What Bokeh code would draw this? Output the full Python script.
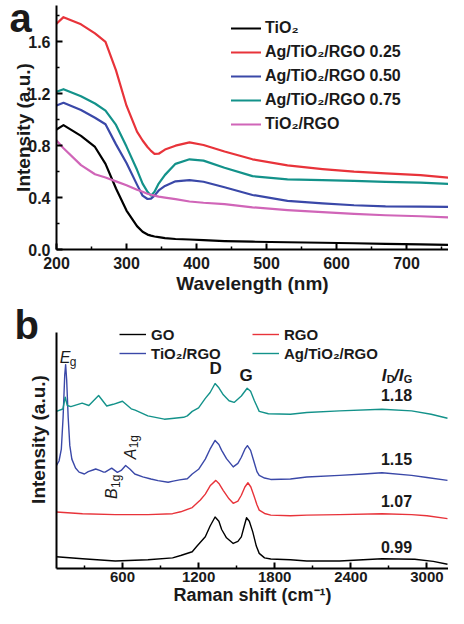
import math
from bokeh.plotting import figure
from bokeh.layouts import column
from bokeh.models import (Range1d, Legend, LegendItem, Label, FixedTicker,
                          PrintfTickFormatter)
from bokeh.embed import file_html
from bokeh.resources import INLINE

FONT = "Liberation Sans"

# ---------------- Panel a: UV-vis absorption ----------------
wavelength = [200, 210, 235, 255, 270, 285, 300, 315, 323, 330, 335, 340, 346,
              355, 370, 390, 410, 440, 480, 530, 580, 625, 670, 720, 760]
uv_tio2 = [0.925, 0.958, 0.875, 0.79, 0.66, 0.47, 0.30, 0.18, 0.137, 0.115, 0.107,
           0.10, 0.095, 0.088, 0.081, 0.077, 0.072, 0.065, 0.06, 0.056, 0.052,
           0.048, 0.044, 0.04, 0.036]
uv_ag025 = [1.74, 1.79, 1.735, 1.665, 1.60, 1.38, 1.108, 0.908, 0.84, 0.79, 0.76,
            0.737, 0.738, 0.77, 0.80, 0.825, 0.805, 0.755, 0.695, 0.648, 0.62,
            0.60, 0.587, 0.573, 0.553]
uv_ag050 = [1.11, 1.13, 1.075, 1.015, 0.965, 0.81, 0.667, 0.50, 0.415, 0.389, 0.392,
            0.415, 0.455, 0.49, 0.525, 0.534, 0.522, 0.48, 0.42, 0.375, 0.355,
            0.341, 0.333, 0.331, 0.328]
uv_ag075 = [1.215, 1.235, 1.18, 1.125, 1.07, 0.96, 0.793, 0.614, 0.508, 0.445, 0.415,
            0.445, 0.508, 0.575, 0.66, 0.695, 0.685, 0.63, 0.565, 0.54, 0.534,
            0.529, 0.521, 0.516, 0.506]
uv_tio2_rgo = [0.84, 0.78, 0.65, 0.58, 0.555, 0.525, 0.495, 0.46, 0.445, 0.43, 0.422,
               0.415, 0.407, 0.40, 0.388, 0.37, 0.36, 0.349, 0.325, 0.304, 0.288,
               0.275, 0.264, 0.256, 0.248]
uv_names = ["TiO\u2082", "Ag/TiO\u2082/RGO 0.25", "Ag/TiO\u2082/RGO 0.50",
            "Ag/TiO\u2082/RGO 0.75", "TiO\u2082/RGO"]
uv_x_ticks = [200, 300, 400, 500, 600, 700]
uv_x_minor = [250, 350, 450, 550, 650, 750]
uv_y_ticks = [0.0, 0.4, 0.8, 1.2, 1.6]
uv_y_minor = [0.2, 0.6, 1.0, 1.4, 1.8]

# ---------------- Panel b: Raman ----------------
go_x = [79, 285, 543, 801, 995, 1059, 1150, 1188, 1253, 1291, 1330, 1360, 1382,
        1420, 1473, 1510, 1537, 1560, 1578, 1600, 1627, 1655, 1678, 1720, 1769,
        1924, 2053, 2311, 2646, 2904, 3050, 3162]
go_y = [5.0, 4.1, 3.2, 3.7, 4.5, 5.5, 7.1, 9.5, 13.4, 18.0, 21.8, 20.0, 16.5,
        13.0, 10.6, 11.5, 13.4, 18.0, 21.5, 20.0, 15.5, 9.5, 6.4, 4.5, 4.0,
        3.7, 3.2, 3.2, 4.1, 3.9, 3.0, 1.8]
rgo_x = [79, 285, 543, 801, 995, 1059, 1150, 1214, 1253, 1291, 1336, 1360, 1395,
         1440, 1473, 1510, 1537, 1565, 1589, 1612, 1635, 1660, 1678, 1720, 1769,
         1924, 2053, 2311, 2646, 2879, 3000, 3162]
rgo_y = [23.9, 23.2, 22.8, 22.8, 23.2, 24.0, 25.8, 29.0, 31.5, 35.0, 37.3, 36.0,
         33.0, 29.5, 27.6, 28.5, 31.0, 34.5, 36.3, 34.5, 31.0, 27.0, 24.7, 23.3,
         22.6, 22.3, 22.6, 22.8, 23.2, 22.8, 22.3, 21.1]
trgo_x = [79, 100, 118, 132, 145, 152, 160, 172, 185, 201, 230, 258, 300, 330,
          373, 389, 420, 452, 463, 515, 560, 590, 625, 660, 697, 760, 824, 880,
          960, 1000, 1050, 1111, 1150, 1200, 1253, 1290, 1330, 1360, 1382, 1420,
          1473, 1510, 1537, 1565, 1585, 1610, 1635, 1660, 1678, 1720, 1769, 1924,
          2053, 2311, 2500, 2646, 2879, 3000, 3162]
trgo_y = [43.5, 45.5, 50.5, 64.0, 82.0, 86.3, 80.0, 64.0, 52.0, 46.3, 42.5, 40.8,
          40.0, 41.0, 41.8, 42.1, 41.5, 40.8, 40.8, 42.5, 40.7, 41.5, 43.6, 42.0,
          40.0, 38.8, 37.9, 37.2, 36.5, 37.0, 37.5, 38.0, 40.0, 42.0, 46.3, 50.5,
          54.2, 52.5, 50.0, 46.5, 43.0, 44.5, 47.1, 50.5, 52.0, 50.0, 45.5, 41.0,
          39.4, 38.3, 37.7, 37.9, 38.7, 39.4, 40.0, 40.5, 39.4, 38.5, 37.3]
agtrgo_x = [79, 130, 149, 165, 193, 282, 335, 412, 476, 527, 600, 669, 700, 800,
            930, 990, 1082, 1111, 1150, 1200, 1253, 1291, 1330, 1360, 1395, 1440,
            1480, 1537, 1583, 1610, 1640, 1678, 1750, 1924, 2053, 2311, 2646,
            2879, 3033, 3162]
agtrgo_y = [66.5, 67.5, 72.5, 69.0, 68.5, 70.0, 69.0, 73.2, 68.8, 69.5, 70.8,
            67.6, 67.0, 64.6, 63.2, 63.5, 64.0, 64.6, 66.5, 68.0, 72.0, 74.5,
            78.3, 76.5, 73.5, 71.0, 70.3, 73.0, 76.3, 75.0, 71.0, 66.5, 65.5,
            65.3, 66.0, 66.7, 67.4, 66.7, 65.3, 63.6]
raman_names = ["GO", "RGO", "TiO\u2082/RGO", "Ag/TiO\u2082/RGO"]
id_ig_values = ["1.18", "1.15", "1.07", "0.99"]
raman_x_ticks = [600, 1200, 1800, 2400, 3000]
raman_x_minor = [300, 900, 1500, 2100, 2700]

BLACK = "#000000"
RED = "#E8333A"
BLUE = "#3A48A8"
TEAL = "#13928A"
PINK = "#D065B8"
TXT = "#1a1a1a"


def style_axis(ax, tick_font="16px", label_font="19px"):
    ax.axis_line_width = 2
    ax.axis_line_color = "black"
    ax.major_tick_line_width = 2
    ax.minor_tick_line_width = 1.5
    ax.major_tick_in = 6
    ax.major_tick_out = 0
    ax.minor_tick_in = 3
    ax.minor_tick_out = 0
    ax.major_label_text_font = FONT
    ax.major_label_text_font_style = "bold"
    ax.major_label_text_font_size = tick_font
    ax.major_label_text_color = TXT
    ax.axis_label_text_font = FONT
    ax.axis_label_text_font_style = "bold"
    ax.axis_label_text_font_size = label_font
    ax.axis_label_text_color = TXT


def add_letter(p, letter, offset, standoff):
    """Panel letter drawn by the (zero-height) title, so it is not clipped."""
    t = p.title
    t.text = letter
    t.text_font = FONT
    t.text_font_style = "bold"
    t.text_font_size = "40px"
    t.text_color = TXT
    t.align = "left"
    t.vertical_align = "bottom"
    t.offset = offset
    try:
        t.standoff = standoff
    except Exception:
        t.standoff = 0


# ---------------- build panel a ----------------
pa = figure(width=448, height=296, output_backend="svg", toolbar_location=None,
            x_range=Range1d(200, 760), y_range=Range1d(0, 1.88),
            min_border_left=56, min_border_right=0, min_border_top=5,
            min_border_bottom=40)
pa.outline_line_color = None
pa.grid.visible = False

style_axis(pa.xaxis[0], tick_font="16px", label_font="19px")
style_axis(pa.yaxis[0], tick_font="16px", label_font="19px")
pa.xaxis[0].ticker = FixedTicker(ticks=uv_x_ticks, minor_ticks=uv_x_minor)
pa.yaxis[0].ticker = FixedTicker(ticks=uv_y_ticks, minor_ticks=uv_y_minor)
pa.yaxis[0].formatter = PrintfTickFormatter(format="%.1f")
pa.xaxis[0].axis_label = "Wavelength (nm)"
pa.yaxis[0].axis_label = "Intensity (a.u.)"
pa.xaxis[0].major_label_standoff = 7
pa.xaxis[0].axis_label_standoff = 1
pa.yaxis[0].major_label_standoff = 6
pa.yaxis[0].axis_label_standoff = -9

uv_series = [uv_tio2, uv_ag025, uv_ag050, uv_ag075, uv_tio2_rgo]
uv_colors = [BLACK, RED, BLUE, TEAL, PINK]
uv_items = []
for name, ys, col in zip(uv_names, uv_series, uv_colors):
    r = pa.line(wavelength, ys, line_color=col, line_width=2.2,
                line_join="round", line_cap="round")
    uv_items.append(LegendItem(label=name, renderers=[r]))

leg_a = Legend(items=uv_items, location=(175, 115),
               label_text_font=FONT, label_text_font_style="bold",
               label_text_font_size="16px", label_text_color=TXT,
               glyph_width=30, glyph_height=20, label_height=20,
               spacing=4, padding=0, margin=0, label_standoff=4,
               border_line_color=None, background_fill_alpha=0)
pa.add_layout(leg_a)

add_letter(pa, "a", -47, -69)

# ---------------- build panel b ----------------
pb = figure(width=448, height=312, output_backend="svg", toolbar_location=None,
            x_range=Range1d(80, 3170), y_range=Range1d(0, 109.2),
            min_border_left=54, min_border_right=0, min_border_top=14,
            min_border_bottom=40)
pb.outline_line_color = None
pb.grid.visible = False

style_axis(pb.xaxis[0], tick_font="15px", label_font="18px")
style_axis(pb.yaxis[0], tick_font="15px", label_font="19px")
pb.xaxis[0].ticker = FixedTicker(ticks=raman_x_ticks, minor_ticks=raman_x_minor)
pb.yaxis[0].ticker = FixedTicker(ticks=[], minor_ticks=[])
pb.yaxis[0].bounds = (0, 100)
pb.yaxis[0].major_label_standoff = 0
pb.yaxis[0].axis_label_standoff = 8
pb.xaxis[0].axis_label = "Raman shift (cm\u207b\u00b9)"
pb.yaxis[0].axis_label = "Intensity (a.u.)"
pb.xaxis[0].major_label_standoff = 3
pb.xaxis[0].axis_label_standoff = 0

raman_series = [(go_x, go_y), (rgo_x, rgo_y), (trgo_x, trgo_y), (agtrgo_x, agtrgo_y)]
raman_colors = [BLACK, RED, BLUE, TEAL]
raman_renderers = []
for (xs, ys), col in zip(raman_series, raman_colors):
    r = pb.line(xs, ys, line_color=col, line_width=1.4, line_join="round")
    raman_renderers.append(r)

# legend is filled column by column: GO, TiO2/RGO | RGO, Ag/TiO2/RGO
legend_order = [0, 2, 1, 3]
raman_items = [LegendItem(label=raman_names[i], renderers=[raman_renderers[i]])
               for i in legend_order]
leg_b = Legend(items=raman_items, location=(63, 206), ncols=2,
               label_text_font=FONT, label_text_font_style="bold",
               label_text_font_size="15px", label_text_color=TXT,
               glyph_width=27, glyph_height=18, label_height=18, label_width=100,
               spacing=1, padding=0, margin=0, label_standoff=5,
               border_line_color=None, background_fill_alpha=0)
pb.add_layout(leg_b)

add_letter(pb, "b", -42, -73)


def add_text(p, x, y, text, size="16px", style="bold", align="left",
             baseline="alphabetic", xo=0, yo=0, angle=0.0):
    p.add_layout(Label(x=x, y=y, text=text, text_font=FONT,
                       text_font_style=style, text_font_size=size,
                       text_color=TXT, text_align=align,
                       text_baseline=baseline, x_offset=xo, y_offset=yo,
                       angle=angle))


# E_g
add_text(pb, 105, 89.1, "E", size="16px", style="italic")
add_text(pb, 105, 89.1, "g", size="12px", style="normal", xo=10, yo=-4)
# D and G bands
add_text(pb, 1335, 84.5, "D", size="17px", align="center", baseline="middle")
add_text(pb, 1575, 81.9, "G", size="17px", align="center", baseline="middle")
# I_D/I_G header
add_text(pb, 2644, 81.9, "I", size="17px", style="bold italic")
add_text(pb, 2644, 81.9, "D", size="11px", xo=5, yo=-4)
add_text(pb, 2644, 81.9, "/", size="17px", style="bold italic", xo=12)
add_text(pb, 2644, 81.9, "I", size="17px", style="bold italic", xo=17)
add_text(pb, 2644, 81.9, "G", size="11px", xo=22, yo=-4)
# ratio values
for txt, yy in zip(id_ig_values, [73.5, 46.2, 28.6, 9.2]):
    add_text(pb, 2760, yy, txt, size="16px", align="center", baseline="middle")
# A1g and B1g (rotated)
add_text(pb, 662, 46.2, "A", size="16px", style="italic", angle=math.pi / 2)
add_text(pb, 662, 46.2, "1g", size="12px", style="normal", xo=4, yo=11,
         angle=math.pi / 2)
add_text(pb, 515, 29.4, "B", size="16px", style="italic", angle=math.pi / 2)
add_text(pb, 515, 29.4, "1g", size="12px", style="normal", xo=4, yo=11,
         angle=math.pi / 2)

layout = column(pa, pb, spacing=0)
open("out.html", "w").write(file_html(layout, INLINE))
